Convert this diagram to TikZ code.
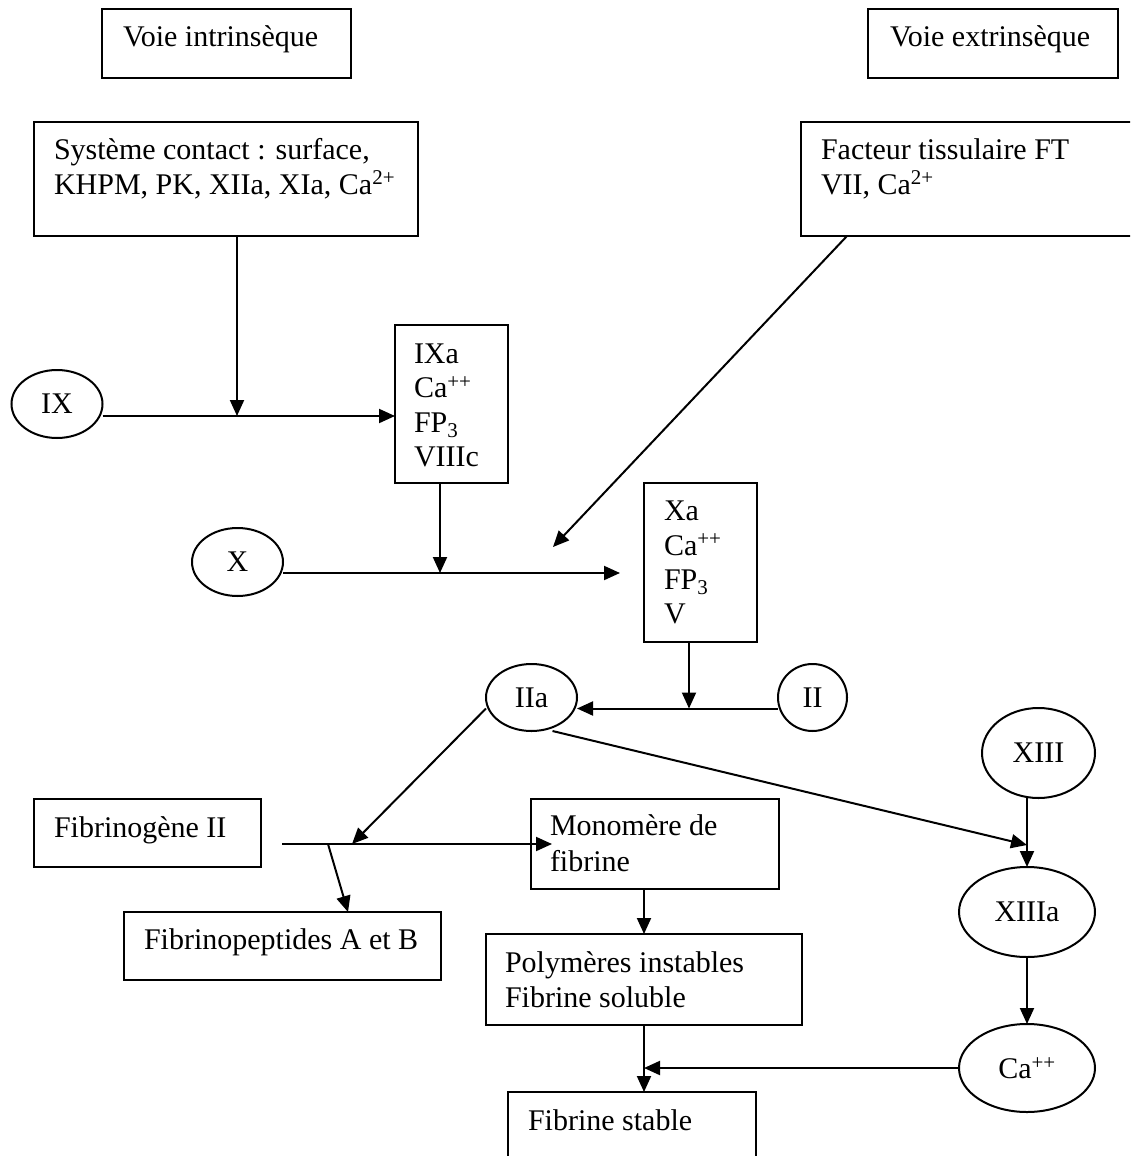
\documentclass[tikz,border=0pt]{standalone}
\usepackage{fontspec}
\setmainfont{Liberation Serif}
\usetikzlibrary{arrows.meta,shapes.geometric,calc}
\begin{document}
\begin{tikzpicture}[x=1pt,y=-1pt,
  line width=2pt,
  box/.style={draw, rectangle, anchor=north west, inner sep=0pt, outer sep=0pt},
  txt/.style={anchor=base west, inner sep=0pt, outer sep=0pt, font=\fontsize{30}{34.5}\selectfont},
  oval/.style={draw, ellipse, inner sep=0pt, outer sep=0pt, font=\fontsize{30}{34.5}\selectfont},
  arr/.style={-{Triangle[length=16pt,width=14pt]}}]
\useasboundingbox (0,0) rectangle (1130,1156);
\clip (0,0) rectangle (1130,1156);
% boxes
\node[box, minimum width=249pt, minimum height=69pt] (vi) at (102,9) {};
\node[box, minimum width=250pt, minimum height=69pt] (ve) at (868,9) {};
\node[box, minimum width=384pt, minimum height=114pt] (sys) at (34,122) {};
\node[box, minimum width=339pt, minimum height=114pt] (ft) at (801,122) {};
\node[box, minimum width=113pt, minimum height=158pt] (ixa) at (395,325) {};
\node[box, minimum width=113pt, minimum height=159pt] (xa) at (644,483) {};
\node[box, minimum width=227pt, minimum height=68pt] (fg) at (34,799) {};
\node[box, minimum width=317pt, minimum height=68pt] (fp) at (124,912) {};
\node[box, minimum width=248pt, minimum height=90pt] (mono) at (531,799) {};
\node[box, minimum width=316pt, minimum height=91pt] (poly) at (486,934) {};
\node[box, minimum width=248pt, minimum height=90pt] (fs) at (508,1092) {};
% texts
\node[txt] (vit) at (123,47) {Voie intrinsèque};
\node[txt] (vet) at (890,47) {Voie extrinsèque};
\node[txt] (syst1) at (54,159) {Système contact : surface,};
\node[txt] (syst2) at (54,194) {KHPM, PK, XIIa, XIa, Ca\textsuperscript{2+}};
\node[txt] (ftt1) at (821,159) {Facteur tissulaire FT};
\node[txt] (ftt2) at (821,194) {VII, Ca\textsuperscript{2+}};
\node[txt] (ixat1) at (414,363) {IXa};
\node[txt] (ixat2) at (414,397.5) {Ca\textsuperscript{++}};
\node[txt] (ixat3) at (414,432) {FP\textsubscript{3}};
\node[txt] (ixat4) at (414,466) {VIIIc};
\node[txt] (xat1) at (664,520) {Xa};
\node[txt] (xat2) at (664,555) {Ca\textsuperscript{++}};
\node[txt] (xat3) at (664,589) {FP\textsubscript{3}};
\node[txt] (xat4) at (664,623.5) {V};
\node[txt] (fgt) at (54,837) {Fibrinogène II};
\node[txt] (fpt) at (144,949) {Fibrinopeptides A et B};
\node[txt] (monot1) at (550,835) {Monomère de};
\node[txt] (monot2) at (550,871) {fibrine};
\node[txt] (polyt1) at (505,972) {Polymères instables};
\node[txt] (polyt2) at (505,1007) {Fibrine soluble};
\node[txt] (fst) at (528,1130) {Fibrine stable};
% ellipses
\node[oval, minimum width=91pt, minimum height=68pt] (IX) at (57,404) {IX};
\node[oval, minimum width=91pt, minimum height=68pt] (X) at (237.5,562) {X};
\node[oval, minimum width=91pt, minimum height=67pt] (IIa) at (531.5,697.5) {IIa};
\node[oval, minimum width=69pt, minimum height=67pt] (II) at (812.5,697.5) {II};
\node[oval, minimum width=113pt, minimum height=90pt] (XIII) at (1038.5,753) {XIII};
\node[oval, minimum width=136pt, minimum height=90pt] (XIIIa) at (1027,912) {XIIIa};
\node[oval, minimum width=136pt, minimum height=88pt] (Ca) at (1027,1068) {Ca\textsuperscript{++}};
% junctions
\coordinate (j1) at (237,416);
\coordinate (j2) at (440,573);
\coordinate (t2) at (620,573);
\coordinate (d1) at (553,547);
\coordinate (j4) at (689,708.5);
\coordinate (j5) at (352,844);
\coordinate (f0) at (282,844);
\coordinate (f1) at (552,844);
\coordinate (b0) at (328,844);
\coordinate (j6) at (1027,845);
% connectors
\draw[arr] (sys.south west -| j1) -- (j1);
\draw[arr] (IX.east |- j1) -- (ixa.west |- j1);
\draw[arr] (ixa.south -| j2) -- (j2);
\draw[arr] (X.east |- j2) -- (t2);
\draw[arr] ($(ft.south west)+(46,0)$) -- (d1);
\draw[arr] (xa.south -| j4) -- (j4);
\draw[arr] (II.west |- j4) -- (IIa.east |- j4);
\draw[arr] (IIa.west |- j4) -- (j5);
\draw[arr] (f0) -- (f1);
\draw[arr] (b0) -- ($(fp.north west)+(224,0)$);
\draw[arr] ($(IIa.south)+(21,0)$) -- (j6);
\draw[arr] (XIII.south -| XIIIa.north) -- (XIIIa.north);
\draw[arr] (XIIIa.south) -- (Ca.north);
\draw[arr] (mono.south -| poly.north) -- (poly.north);
\draw[arr] (poly.south) -- (poly.south |- fs.north);
\draw[arr] (Ca.west) -- (Ca.west -| poly.south);
\end{tikzpicture}
\end{document}
